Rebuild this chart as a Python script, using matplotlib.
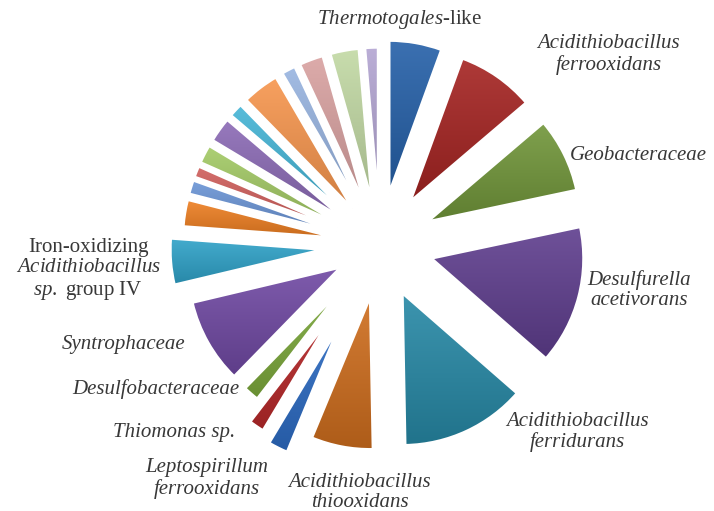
import numpy as np
import matplotlib
matplotlib.use("Agg")
import matplotlib.pyplot as plt
from matplotlib.colors import to_rgb

# slices clockwise from 12 o'clock, share of clones (%)
labels = [
    "$\\mathit{Thermotogales}$-like",
    "Acidithiobacillus\nferrooxidans",
    "Geobacteraceae",
    "Desulfurella\nacetivorans",
    "Acidithiobacillus\nferridurans",
    "Acidithiobacillus\nthiooxidans",
    "Leptospirillum\nferrooxidans",
    "Thiomonas sp.",
    "Desulfobacteraceae",
    "Syntrophaceae",
    "Iron-oxidizing\n$\\mathit{Acidithiobacillus}$\n$\\mathit{sp.}$ group IV",
    "", "", "", "", "", "", "", "", "", "", "",
]
shares = [5.7, 8.4, 8.1, 15.1, 13.6, 6.7, 2.4, 1.9, 1.9, 9.2, 5.0,
          2.9, 1.5, 1.2, 2.0, 2.7, 1.5, 4.0, 1.5, 2.6, 3.1, 1.4]
colors = [
    "#2560A8", "#A52422", "#71963A", "#5F3E8E", "#2789A6", "#CF6E1E",
    "#2D6CC4", "#B8292A", "#7DAA3C", "#7049A3", "#2FA2C8", "#EE7F22",
    "#6B95D6", "#D05F5C", "#A4CB66", "#8C6BB6", "#45B5D6", "#F7964E",
    "#98B4E0", "#D9A2A1", "#C2D9A4", "#B3A5D2",
]

# layout
explode = [0.35] * 6 + [0.5, 0.45, 0.3, 0.3, 0.38] + [0.3] * 11
edge_widths = [1.8] * 6 + [3.4, 3.4, 3.0] + [1.8] * 13
# label nudges in pixels (right, down)
nudges = [(-18, 0), (33, -12), (-5, 6), (-3, -10), (34, -10), (20, 14),
          (-4, 19), (-14, -5), (-3, -14), (-12, -4), (2, 7)]
mixed = {0, 10}  # upright labels with italic parts

R_PX = 152.0
CENTER_PX = (380, 245)


def shade_wedge(ax, wedge, color):
    # vertical gradient, a bit lighter on top, clipped to the slice
    x0, y0, x1, y1 = wedge.get_path().get_extents().extents
    base = np.array(to_rgb(color))
    top = base + (1 - base) * 0.1
    bottom = base * 0.84
    t = np.linspace(0, 1, 64)[:, None, None]
    img = top * (1 - t) + bottom * t
    im = ax.imshow(img, extent=(x0, x1, y0, y1), origin="upper",
                   aspect="auto", interpolation="bilinear", zorder=2)
    im.set_clip_path(wedge)


def main():
    plt.rcParams["font.family"] = "Liberation Serif"
    plt.rcParams["mathtext.fontset"] = "custom"
    plt.rcParams["mathtext.rm"] = "Liberation Serif"
    plt.rcParams["mathtext.it"] = "Liberation Serif:italic"

    fig = plt.figure(figsize=(7.14, 5.11), dpi=100)
    ax = fig.add_axes([0, 0, 1, 1])

    wedges, texts = ax.pie(
        shares, labels=labels, colors=colors, startangle=90,
        counterclock=False, explode=explode, labeldistance=1.08,
        wedgeprops=dict(edgecolor="white", linewidth=1.8),
        textprops=dict(fontsize=15, color="#383838", style="italic",
                       multialignment="center", linespacing=1.1),
    )
    for w, c, lw in zip(wedges, colors, edge_widths):
        shade_wedge(ax, w, c)
        # keep the white outline above the gradient
        w.set_facecolor("none")
        w.set_linewidth(lw)
        w.set_zorder(3)

    for i, t in enumerate(texts):
        if i in mixed:
            t.set_style("normal")
        x, y = t.get_position()
        if abs(x) < 0.45:
            t.set_horizontalalignment("center")
            t.set_verticalalignment("bottom" if y > 0 else "top")
        if i < len(nudges):
            dx, dy = nudges[i]
            t.set_position((x + dx / R_PX, y - dy / R_PX))

    cx, cy = CENTER_PX
    ax.set_xlim(-cx / R_PX, (714 - cx) / R_PX)
    ax.set_ylim(-(511 - cy) / R_PX, cy / R_PX)
    ax.set_aspect("equal")
    ax.axis("off")
    fig.savefig("out.png", dpi=100, facecolor="white")


if __name__ == "__main__":
    main()
